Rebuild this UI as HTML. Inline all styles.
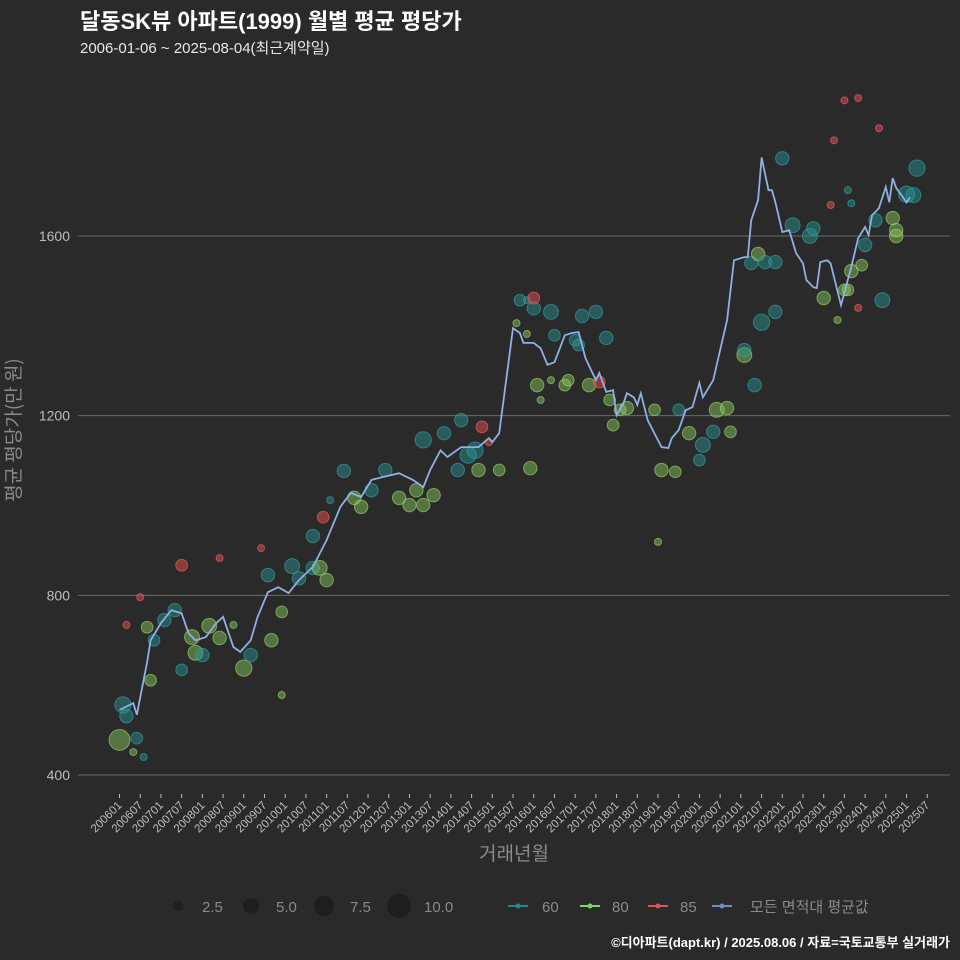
<!DOCTYPE html>
<html><head><meta charset="utf-8"><style>
html,body{margin:0;padding:0;background:#2b2a2b;}
svg{display:block;font-family:"Liberation Sans","Noto Sans CJK KR",sans-serif;}
.kr{font-family:"Noto Sans CJK KR",sans-serif;}
</style></head><body>
<svg id="chart" width="960" height="960" viewBox="0 0 960 960" xmlns="http://www.w3.org/2000/svg">
<rect width="960" height="960" fill="#2b2a2b"/>
<text x="80" y="29" fill="#ffffff" font-size="22" font-weight="bold">달동SK뷰 아파트(1999) 월별 평균 평당가</text>
<text x="80" y="53" fill="#e8e8e8" font-size="15">2006-01-06 ~ 2025-08-04(최근계약일)</text>
<g id="grid"></g>
<g id="points"></g>
<g id="line"></g>
<g id="xaxis"></g>
<text x="514" y="860" fill="#8a8a8a" font-size="19" text-anchor="middle">거래년월</text>
<text class="kr" transform="translate(20,430) rotate(-90)" fill="#8a8a8a" font-size="19" text-anchor="middle">평균 평당가(만 원)</text>
<g id="legend">
  <circle cx="178" cy="906" r="5" fill="#1e1e1e"/>
  <text x="202" y="912" fill="#8a8a8a" font-size="15">2.5</text>
  <circle cx="251" cy="906" r="8" fill="#1e1e1e"/>
  <text x="276" y="912" fill="#8a8a8a" font-size="15">5.0</text>
  <circle cx="324" cy="906" r="10" fill="#1e1e1e"/>
  <text x="350" y="912" fill="#8a8a8a" font-size="15">7.5</text>
  <circle cx="399" cy="906" r="12" fill="#1e1e1e"/>
  <text x="424" y="912" fill="#8a8a8a" font-size="15">10.0</text>
  <line x1="508" y1="906" x2="528" y2="906" stroke="#1f8a8a" stroke-width="2"/><circle cx="518" cy="906" r="2.5" fill="#1f8a8a"/>
  <text x="542" y="912" fill="#8a8a8a" font-size="15">60</text>
  <line x1="580" y1="906" x2="600" y2="906" stroke="#7bd66a" stroke-width="2"/><circle cx="590" cy="906" r="2.5" fill="#7bd66a"/>
  <text x="612" y="912" fill="#8a8a8a" font-size="15">80</text>
  <line x1="648" y1="906" x2="668" y2="906" stroke="#d85555" stroke-width="2"/><circle cx="658" cy="906" r="2.5" fill="#d85555"/>
  <text x="680" y="912" fill="#8a8a8a" font-size="15">85</text>
  <line x1="712" y1="906" x2="732" y2="906" stroke="#6f8fc0" stroke-width="2"/><circle cx="722" cy="906" r="2.5" fill="#6f8fc0"/>
  <text x="750" y="912" fill="#8a8a8a" font-size="15">모든 면적대 평균값</text>
</g>
<text x="950" y="947" fill="#ffffff" font-size="13" font-weight="bold" text-anchor="end">©디아파트(dapt.kr) / 2025.08.06 / 자료=국토교통부 실거래가</text>
</svg>
<script>
const yTicks = [400, 800, 1200, 1600];
// months since 2006-01
const lineMonths = [0,4,5,8,9,12,15,18,20,22,25,28,30,33,35,38,40,43,46,49,52,56,60,64,67,70,73,76,81,85,88,90,93,95,99,104,107,108,110,114,116,117,120,122,124,126,129,131,133,135,138,139,141,143,144,146,147,149,150,151,153,157,159,160,162,164,166,168,169,172,176,178,181,182,183,185,186,188,189,190,192,194,196,198,199,201,202,203,205,206,209,212,214,216,217,218,220,222,223,224,225,228,229];
const lineValues = [545,560,534,651,700,738,767,760,716,700,707,738,752,685,674,700,752,807,818,805,834,863,923,997,1028,1019,1057,1063,1072,1057,1041,1079,1123,1108,1130,1130,1150,1141,1161,1395,1384,1362,1362,1350,1313,1319,1379,1384,1386,1328,1279,1295,1253,1257,1201,1228,1250,1241,1224,1250,1190,1130,1128,1150,1168,1212,1219,1273,1241,1279,1413,1546,1553,1553,1635,1680,1775,1702,1702,1675,1609,1613,1562,1539,1502,1486,1484,1542,1546,1539,1446,1531,1595,1620,1602,1646,1662,1709,1675,1729,1707,1675,1686];
const ptMonths = ["200601","200602","200603","200606","200605","200608","200603","200607","200610","200609","200611","200702","200705","200707","200710","200711","200801","200803","200806","200810","200901","200903","200707","200912","200806","200906","200908","200909","200912","201003","201005","201009","201011","201101","201012","201102","201009","201106","201109","201111","201202","201206","201210","201301","201303","201308","201305","201403","201408","201305","201311","201404","201410","201412","201512","201409","201503","201511","201509","201601","201601","201606","201602","201610","201603","201606","201607","201701","201703","201707","201710","201702","201705","201611","201712","201708","201711","201802","201804","201812","201901","201907","201910","201902","201906","202001","202002","202005","202006","202009","202010","202105","202102","202107","202111","202102","202104","202106","202108","202111","202201","202204","202209","202210","202307","202301","202311","202303","202406","202308","202309","202312","202401","202404","202409","202410","202501","202504","202410","202503","202307","202311","202304","202405","202308","202309","202305","201511","201508","201406"];
const ptValues = [478,556,531,482,451,440,734,796,611,729,700,745,767,867,707,672,667,732,705,734,638,667,634,578,883,905,845,700,763,865,838,861,861,834,974,1012,932,1077,1017,997,1034,1079,1017,1001,1034,1023,1001,1079,1123,1146,1161,1190,1175,1141,1083,1079,1079,1457,1457,1439,1462,1431,1268,1268,1235,1279,1379,1368,1422,1431,1373,1357,1268,1279,1179,1275,1235,1213,1217,1213,919,1213,1161,1079,1075,1101,1135,1164,1213,1217,1164,1268,1335,1408,1431,1346,1540,1560,1542,1542,1773,1624,1600,1617,1480,1462,1440,1669,1457,1480,1522,1535,1580,1635,1640,1600,1693,1751,1613,1691,1902,1907,1813,1840,1702,1673,1413,1382,1406,1112,1101,1135];
const ptSizes = [10,6,4,3,1,1,1,1,3,3,3,4,4,3,5,5,4,5,4,1,6,4,3,1,1,1,4,4,3,5,4,4,5,4,3,1,4,4,4,4,4,4,4,4,4,4,4,4,6,6,4,4,3,1,4,4,3,1,3,4,3,5,4,3,1,1,3,3,4,4,4,3,4,3,3,3,3,3,4,3,1,3,4,4,3,3,5,4,5,4,3,4,5,6,4,4,4,4,4,4,4,5,5,4,3,4,1,1,5,3,4,3,4,4,4,4,6,6,4,5,1,1,1,1,1,1,1,1,1,6,5,4];
const ptTypes = [80,60,60,60,80,60,85,85,80,80,60,60,60,85,80,80,60,80,80,80,80,60,60,80,85,85,60,80,80,60,60,60,80,80,85,60,60,60,80,80,60,60,80,80,80,80,80,60,60,60,60,60,85,85,80,80,80,60,60,60,85,60,80,80,80,80,60,60,60,60,60,60,80,80,80,85,80,80,80,80,80,60,80,80,80,60,60,60,80,80,80,60,80,60,60,60,60,80,60,60,60,60,60,60,80,80,85,85,60,80,80,80,60,60,80,80,60,60,80,60,85,85,85,85,60,60,80,80,80,60,60,60];
const xTickLabels = [];
for (let y = 2006; y <= 2025; y++) { xTickLabels.push(y + "01"); xTickLabels.push(y + "07"); }

const NS = "http://www.w3.org/2000/svg";
function mIdx(s){ if (typeof s === "number") return s; return (parseInt(s.slice(0,4))-2006)*12 + parseInt(s.slice(4,6))-1; }
function xScale(s){ return 119.5 + mIdx(s)*3.452; }
function yScale(v){ return 775 - (v-400)*(539/1200); }
function mk(tag, attrs, parent){ const e=document.createElementNS(NS,tag); for(const k in attrs) e.setAttribute(k,attrs[k]); parent.appendChild(e); return e; }

const grid = document.getElementById("grid");
yTicks.forEach(t=>{
  const l = mk("line",{x1:78,x2:950,y1:yScale(t),y2:yScale(t),stroke:"#6a6a6a","stroke-width":1},grid);
  
  
  const tx = mk("text",{x:70,y:yScale(t)+5,fill:"#bdbdbd","font-size":14,"text-anchor":"end"},grid);
  
  
  tx.textContent = t;
});

const xa = document.getElementById("xaxis");
xTickLabels.forEach(lb=>{
  const x = xScale(lb);
  const tk = mk("line",{x1:x,x2:x,y1:794,y2:798,stroke:"#bdbdbd","stroke-width":1},xa);
  
  
  const tx = mk("text",{x:x+3,y:806,fill:"#bdbdbd","font-size":11.5,"text-anchor":"end",transform:`rotate(-45 ${x+3} 806)`},xa);
  
  
  tx.textContent = lb;
});

const colors = {60:["rgba(40,150,150,0.45)","rgba(50,170,170,0.6)"],80:["rgba(140,205,95,0.45)","rgba(160,225,110,0.6)"],85:["rgba(215,75,75,0.55)","rgba(235,90,90,0.7)"]};
const pg = document.getElementById("points");
const np = Math.min(ptMonths.length, ptValues.length, ptSizes.length, ptTypes.length);
for (let i = 0; i < np; i++) {
  const c = colors[ptTypes[i]] || colors[60];
  const r = 3.2*Math.sqrt(ptSizes[i]) + 0.3;
  const p = mk("circle",{cx:xScale(ptMonths[i]),cy:yScale(ptValues[i]),r:r,fill:c[0],stroke:c[1],"stroke-width":1},pg);
  
  
}

const lg = document.getElementById("line");
const n = Math.min(lineMonths.length, lineValues.length);
let d = "";
for (let i = 0; i < n; i++) d += (i ? "L" : "M") + xScale(lineMonths[i]).toFixed(1) + "," + yScale(lineValues[i]).toFixed(1) + " ";
const path = mk("path",{d:d,fill:"none",stroke:"#8fb0e0","stroke-width":1.8},lg);


</script>
</body></html>
